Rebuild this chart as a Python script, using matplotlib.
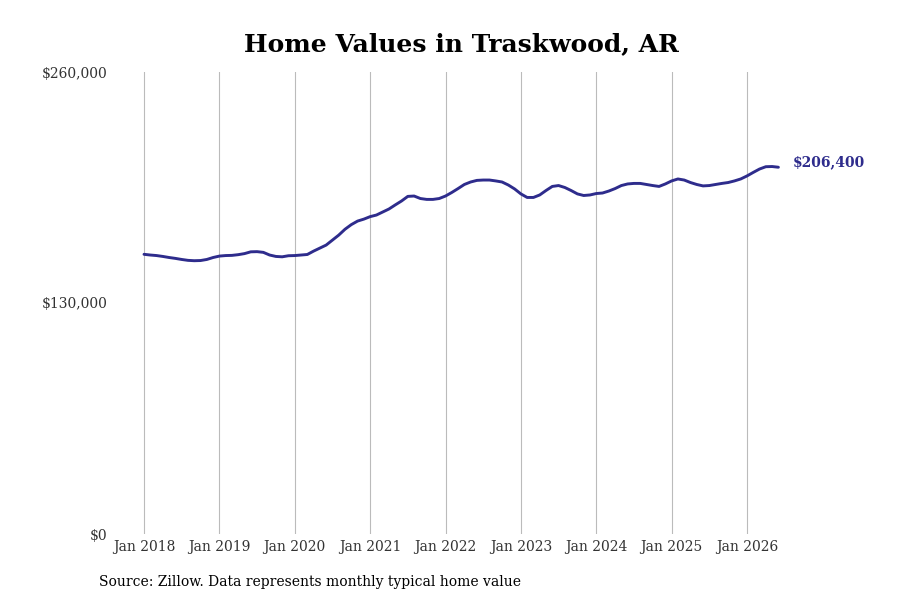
import matplotlib
matplotlib.use("Agg")
import matplotlib.pyplot as plt
from matplotlib.ticker import FuncFormatter

# monthly typical home value, Jan 2018 .. Jun 2026 (thousands of $)
start_year = 2018
values_2018 = [157.4, 157.0, 156.7, 156.2, 155.6, 155.1, 154.5, 154.0, 153.8, 153.9, 154.5, 155.6]
values_2019 = [156.4, 156.7, 156.8, 157.2, 157.8, 158.8, 158.9, 158.5, 157.0, 156.2, 156.0, 156.6]
values_2020 = [156.7, 157.0, 157.3, 159.2, 160.9, 162.6, 165.4, 168.2, 171.5, 174.1, 176.1, 177.2]
values_2021 = [178.6, 179.5, 181.2, 182.9, 185.2, 187.4, 190.0, 190.2, 188.8, 188.3, 188.3, 188.8]
values_2022 = [190.2, 192.2, 194.4, 196.7, 198.1, 199.0, 199.2, 199.2, 198.7, 198.1, 196.4, 194.2]
values_2023 = [191.4, 189.4, 189.4, 190.8, 193.3, 195.6, 196.1, 195.0, 193.3, 191.4, 190.5, 190.8]
values_2024 = [191.6, 191.9, 193.0, 194.4, 196.1, 197.0, 197.3, 197.3, 196.7, 196.1, 195.6, 197.0]
values_2025 = [198.7, 199.8, 199.2, 197.8, 196.7, 195.9, 196.1, 196.7, 197.3, 197.8, 198.7, 199.8]
values_2026 = [201.5, 203.5, 205.4, 206.7, 206.8, 206.4]

tick_years = list(range(2018, 2027))
tick_labels = ["Jan {}".format(y) for y in tick_years]
y_ticks = [0, 130000, 260000]
end_label = "$206,400"

values = []
for yr in [values_2018, values_2019, values_2020, values_2021, values_2022,
           values_2023, values_2024, values_2025, values_2026]:
    values += [v * 1000 for v in yr]
x = [start_year + i / 12 for i in range(len(values))]

line_color = "#2e2c8c"
plt.rcParams["font.family"] = "DejaVu Serif"

fig = plt.figure(figsize=(9, 6), dpi=100)
ax = fig.add_axes([117 / 900, 66 / 600, (790 - 117) / 900, 462 / 600])

ax.plot(x, values, color=line_color, linewidth=2.1, solid_capstyle="round")

px_per_year = (747 - 144) / 8
ax.set_xlim(2018 - 27 / px_per_year, 2018 + 646 / px_per_year)
ax.set_ylim(0, 260000)

ax.set_xticks(tick_years)
ax.set_xticklabels(tick_labels)
ax.set_yticks(y_ticks)
ax.yaxis.set_major_formatter(FuncFormatter(lambda v, p: "${:,.0f}".format(v)))
ax.tick_params(axis="both", length=0, labelsize=10, colors="#333333")
ax.tick_params(axis="x", pad=4)
ax.tick_params(axis="y", pad=7)

ax.grid(axis="x", color="#bbbbbb", linewidth=0.8)
ax.grid(axis="y", visible=False)
for s in ax.spines.values():
    s.set_visible(False)

ax.annotate(end_label, xy=(x[-1], values[-1]), xytext=(10, 3.5),
            textcoords="offset points", color=line_color, fontsize=10,
            fontweight="bold", va="center", ha="left", annotation_clip=False)

fig.text(461 / 900, 1 - 44 / 600, "Home Values in Traskwood, AR",
         ha="center", va="center", fontsize=18, fontweight="bold")
fig.text(99 / 900, 1 - 582 / 600, "Source: Zillow. Data represents monthly typical home value",
         ha="left", va="center", fontsize=10)

fig.savefig("out.png", dpi=100)
